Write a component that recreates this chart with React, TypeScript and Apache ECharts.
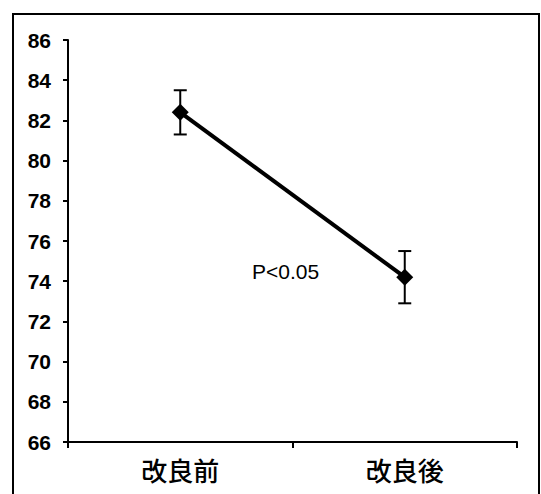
import React, { useEffect, useRef } from "react";
import * as echarts from "echarts";

const categories = ["改良前", "改良後"];
const means = [82.4, 74.2];
const errLow = [81.3, 72.9];
const errHigh = [83.5, 75.5];
const yMin = 66;
const yMax = 86;
const yInterval = 2;
const pLabel = "P<0.05";

export default function App() {
  const ref = useRef<HTMLDivElement>(null);
  useEffect(() => {
    if (!ref.current) return;
    const chart = echarts.init(ref.current, null, { renderer: "svg" });
    const errData = categories.map((_, i) => [i, errLow[i], errHigh[i]]);
    chart.setOption({
      animation: false,
      backgroundColor: "#ffffff",
      grid: { left: 68, right: 24, top: 40, bottom: 52, containLabel: false },
      xAxis: {
        type: "category",
        data: categories,
        boundaryGap: true,
        axisLine: { show: true, lineStyle: { color: "#000", width: 2 } },
        axisTick: { show: true, inside: false, length: 6, lineStyle: { color: "#000", width: 2 } },
        axisLabel: {
          color: "#000",
          fontSize: 26,
          fontWeight: 500,
          margin: 14,
          fontFamily: "Noto Sans CJK JP, sans-serif",
        },
        splitLine: { show: false },
      },
      yAxis: {
        type: "value",
        min: yMin,
        max: yMax,
        interval: yInterval,
        axisLine: { show: true, lineStyle: { color: "#000", width: 2 } },
        axisTick: { show: true, inside: false, length: 5, lineStyle: { color: "#000", width: 2 } },
        axisLabel: {
          color: "#000",
          fontSize: 21,
          fontWeight: "bold",
          margin: 17,
          fontFamily: "Liberation Sans, Arial, sans-serif",
        },
        splitLine: { show: false },
      },
      graphic: [
        {
          type: "rect",
          shape: { x: 13, y: 14, width: 526, height: 492 },
          style: { fill: "none", stroke: "#000", lineWidth: 2 },
          silent: true,
          z: 100,
        },
        {
          type: "text",
          left: 252,
          top: 261,
          style: {
            text: pLabel,
            fill: "#000",
            fontSize: 21,
            fontFamily: "Liberation Sans, Arial, sans-serif",
          },
        },
      ],
      series: [
        {
          type: "line",
          data: means,
          symbol: "diamond",
          symbolSize: 17,
          lineStyle: { color: "#000", width: 4 },
          itemStyle: { color: "#000" },
          z: 3,
        },
        {
          type: "custom",
          data: errData,
          z: 4,
          renderItem: (params: any, api: any) => {
            const x = api.value(0);
            const lo = api.coord([x, api.value(1)]);
            const hi = api.coord([x, api.value(2)]);
            const half = 6.5;
            const st = { stroke: "#000", lineWidth: 2 };
            return {
              type: "group",
              children: [
                { type: "line", shape: { x1: lo[0], y1: lo[1], x2: hi[0], y2: hi[1] }, style: st },
                { type: "line", shape: { x1: hi[0] - half, y1: hi[1], x2: hi[0] + half, y2: hi[1] }, style: st },
                { type: "line", shape: { x1: lo[0] - half, y1: lo[1], x2: lo[0] + half, y2: lo[1] }, style: st },
              ],
            };
          },
        },
      ],
    });
    return () => chart.dispose();
  }, []);
  return (
    <div style={{ position: "fixed", left: 0, top: 0, width: 541, height: 494 }}>
      <div ref={ref} style={{ width: 541, height: 494 }} />
    </div>
  );
}
